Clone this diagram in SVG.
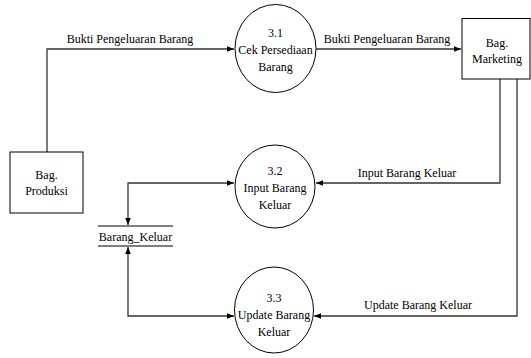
<svg xmlns="http://www.w3.org/2000/svg" width="531" height="358" viewBox="0 0 531 358">
<defs>
<marker id="ah" viewBox="0 0 10 10" refX="10" refY="5" markerWidth="7" markerHeight="7" markerUnits="userSpaceOnUse" orient="auto-start-reverse">
<path d="M0,1 L10,5 L0,9 Z" fill="#000"/>
</marker>
</defs>
<style>
text{font-size:12px;fill:#000;text-anchor:middle}
.node{fill:#fff;stroke:#000;stroke-width:1}
.flow{fill:none;stroke:#333;stroke-width:1.3}
.store{stroke:#000;stroke-width:1.2}
</style>
<rect width="531" height="358" fill="#fff"/>
<g font-family="Liberation Serif, Times New Roman, DejaVu Serif, serif">
<g id="connectors">
<path class="flow" d="M47,152 V49 H234" marker-end="url(#ah)"/>
<text x="130" y="43">Bukti Pengeluaran Barang</text>
<path class="flow" d="M316,49 H461" marker-end="url(#ah)"/>
<text x="387" y="43">Bukti Pengeluaran Barang</text>
<path class="flow" d="M500,79 V183 H316" marker-end="url(#ah)"/>
<text x="407" y="177">Input Barang Keluar</text>
<path class="flow" d="M517,79 V316 H314" marker-end="url(#ah)"/>
<text x="418" y="309">Update Barang Keluar</text>
<path class="flow" d="M128,225 V183 H234" marker-start="url(#ah)" marker-end="url(#ah)"/>
<path class="flow" d="M128,247 V316 H234" marker-start="url(#ah)" marker-end="url(#ah)"/>
</g>
<g id="p31">
<ellipse class="node" cx="275.5" cy="48.5" rx="40.5" ry="44"/>
<text x="275.5" y="37">3.1</text>
<text x="275.5" y="54">Cek Persediaan</text>
<text x="275.5" y="71">Barang</text>
</g>
<g id="p32">
<ellipse class="node" cx="275" cy="186.5" rx="40" ry="41.5"/>
<text x="275" y="175">3.2</text>
<text x="275" y="192">Input Barang</text>
<text x="275" y="209">Keluar</text>
</g>
<g id="p33">
<ellipse class="node" cx="274" cy="310" rx="39.5" ry="43"/>
<text x="274" y="302">3.3</text>
<text x="274" y="319">Update Barang</text>
<text x="274" y="336">Keluar</text>
</g>
<g id="marketing">
<rect class="node" x="462" y="18.5" width="68" height="60.5"/>
<text x="497" y="47">Bag.</text>
<text x="497" y="63">Marketing</text>
</g>
<g id="produksi">
<rect class="node" x="10" y="152" width="73" height="61"/>
<text x="46.5" y="179">Bag.</text>
<text x="46.5" y="195">Produksi</text>
</g>
<g id="barang_keluar">
<line class="store" x1="98" y1="226" x2="173" y2="226"/>
<line class="store" x1="98" y1="246" x2="173" y2="246"/>
<text x="135.5" y="241">Barang_Keluar</text>
</g>
</g>
</svg>
